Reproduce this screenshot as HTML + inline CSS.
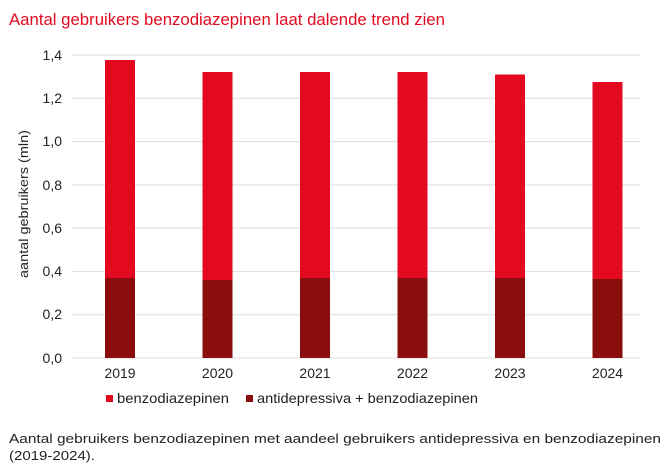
<!DOCTYPE html>
<html><head><meta charset="utf-8"><style>
body{margin:0;background:#fff;width:670px;height:468px;overflow:hidden;font-family:"Liberation Sans",sans-serif}
</style></head><body>
<svg width="670" height="468" xmlns="http://www.w3.org/2000/svg" font-family="Liberation Sans, sans-serif">
<text x="9" y="25" font-size="17" fill="#e30a20" textLength="436" lengthAdjust="spacingAndGlyphs">Aantal gebruikers benzodiazepinen laat dalende trend zien</text>
<g stroke="#dcdcdc" stroke-width="1">
<line x1="72" x2="640" y1="55" y2="55"/><line x1="72" x2="640" y1="98.3" y2="98.3"/>
<line x1="72" x2="640" y1="141.6" y2="141.6"/><line x1="72" x2="640" y1="184.9" y2="184.9"/>
<line x1="72" x2="640" y1="228.1" y2="228.1"/><line x1="72" x2="640" y1="271.4" y2="271.4"/>
<line x1="72" x2="640" y1="314.7" y2="314.7"/><line x1="72" x2="640" y1="358" y2="358"/>
</g>
<g font-size="14" fill="#222" text-anchor="end">
<text x="62" y="60">1,4</text><text x="62" y="103">1,2</text><text x="62" y="146">1,0</text>
<text x="62" y="190">0,8</text><text x="62" y="233">0,6</text><text x="62" y="276">0,4</text>
<text x="62" y="319">0,2</text><text x="62" y="363">0,0</text>
</g>
<text transform="translate(28,204) rotate(-90)" font-size="13" fill="#222" text-anchor="middle" textLength="148" lengthAdjust="spacingAndGlyphs">aantal gebruikers (mln)</text>
<g fill="#e30a20">
<rect x="105" y="60" width="30" height="298"/><rect x="202.5" y="72" width="30" height="286"/>
<rect x="300" y="72" width="30" height="286"/><rect x="397.5" y="72" width="30" height="286"/>
<rect x="495" y="74.5" width="30" height="283.5"/><rect x="592.5" y="82" width="30" height="276"/>
</g>
<g fill="#8b0e0e">
<rect x="105" y="278" width="30" height="80"/><rect x="202.5" y="280" width="30" height="78"/>
<rect x="300" y="278" width="30" height="80"/><rect x="397.5" y="278" width="30" height="80"/>
<rect x="495" y="278" width="30" height="80"/><rect x="592.5" y="279" width="30" height="79"/>
</g>
<g font-size="14" fill="#222" text-anchor="middle">
<text x="120" y="378">2019</text><text x="217.5" y="378">2020</text><text x="315" y="378">2021</text>
<text x="412.5" y="378">2022</text><text x="510" y="378">2023</text><text x="607.5" y="378">2024</text>
</g>
<rect x="106" y="395" width="7" height="7" fill="#e30a20"/>
<text x="117" y="403" font-size="14" fill="#222" textLength="112" lengthAdjust="spacingAndGlyphs">benzodiazepinen</text>
<rect x="246" y="395" width="7" height="7" fill="#8b0e0e"/>
<text x="257" y="403" font-size="14" fill="#222" textLength="221" lengthAdjust="spacingAndGlyphs">antidepressiva + benzodiazepinen</text>
<text x="9" y="443" font-size="13" fill="#222" textLength="652" lengthAdjust="spacingAndGlyphs">Aantal gebruikers benzodiazepinen met aandeel gebruikers antidepressiva en benzodiazepinen</text>
<text x="9" y="460" font-size="13" fill="#222" textLength="86" lengthAdjust="spacingAndGlyphs">(2019-2024).</text>
</svg>
</body></html>
